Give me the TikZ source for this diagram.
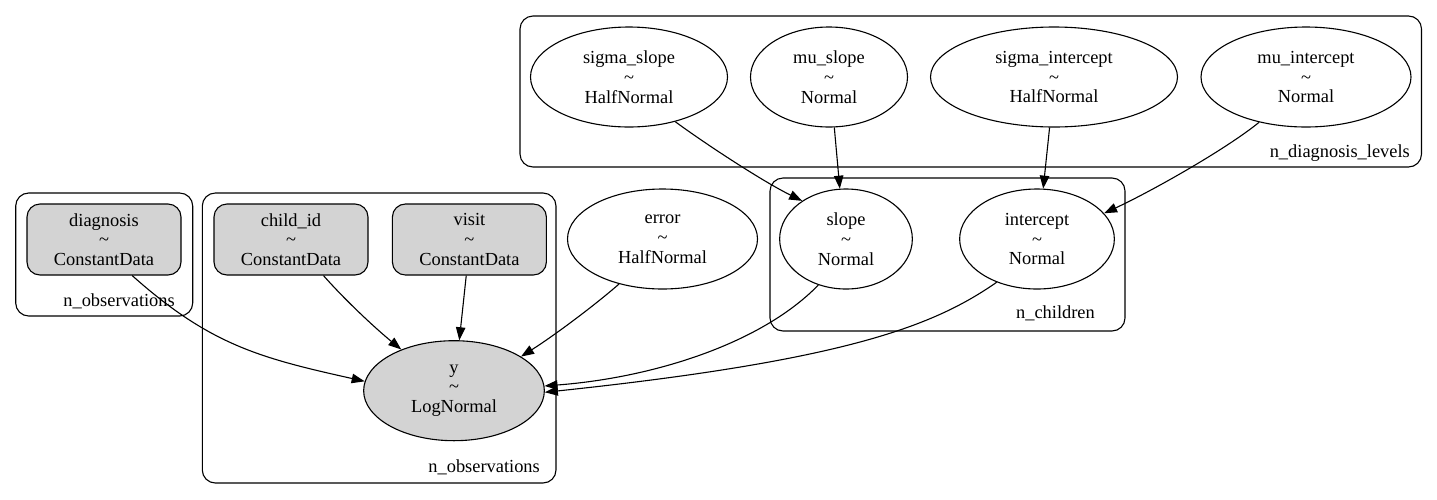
\documentclass[tikz,border=0pt]{standalone}
\usepackage{fontspec}
\setmainfont{Liberation Serif}
\usetikzlibrary{arrows.meta,shapes.geometric}
\definecolor{obsgrey}{HTML}{D3D3D3}

\begin{document}
\begin{tikzpicture}[
  x=1pt,y=-1pt,
  >={Triangle[length=13pt,width=9.5pt]},
  every node/.style={font=\fontsize{18.4}{19.8}\selectfont},
  rv/.style={ellipse,draw,line width=1.1pt,inner sep=0pt,minimum height=100pt,align=center},
  obs/.style={rectangle,draw,line width=1.1pt,rounded corners=13pt,fill=obsgrey,inner sep=0pt,
    minimum width=154pt,minimum height=71pt,align=center},
  plate/.style={draw,line width=1.1pt,rounded corners=13pt},
  lbl/.style={anchor=base east,inner sep=0pt},
  arc/.style={->,line width=1.1pt}
]
\useasboundingbox (0,0) rectangle (1437,499);
\draw[plate] (15.7,193) rectangle (192.7,316);
\draw[plate] (202.3,193) rectangle (556,483);
\draw[plate] (770,178) rectangle (1125,331);
\draw[plate] (520,16) rectangle (1421.5,167);
\node[lbl] (plA) at (175,306) {n\_observations};
\node[lbl] (plB) at (540,472) {n\_observations};
\node[lbl] (plC) at (1095,318) {n\_children};
\node[lbl] (plD) at (1410,157) {n\_diagnosis\_levels};
\node[rv,minimum width=197pt] (sslope) at (629,77) {sigma\_slope\\\textasciitilde\\HalfNormal};
\node[rv,minimum width=157pt] (mslope) at (829,77) {mu\_slope\\\textasciitilde\\Normal};
\node[rv,minimum width=247pt] (sicpt) at (1054,77) {sigma\_intercept\\\textasciitilde\\HalfNormal};
\node[rv,minimum width=210pt] (micpt) at (1306,77) {mu\_intercept\\\textasciitilde\\Normal};
\node[obs] (diag) at (104,239.5) {diagnosis\\\textasciitilde\\ConstantData};
\node[obs] (child) at (291,239.5) {child\_id\\\textasciitilde\\ConstantData};
\node[obs] (visit) at (469.4,239.5) {visit\\\textasciitilde\\ConstantData};
\node[rv,minimum width=190pt] (err) at (662.5,239) {error\\\textasciitilde\\HalfNormal};
\node[rv,minimum width=132.7pt] (slope) at (846,239) {slope\\\textasciitilde\\Normal};
\node[rv,minimum width=154.7pt] (icpt) at (1037,239) {intercept\\\textasciitilde\\Normal};
\node[rv,fill=obsgrey,minimum width=180.7pt] (lik) at (454,390.7) {y\\\textasciitilde\\LogNormal};
\draw[arc] (sslope.-44) .. controls (700,140) and (760,180) .. (slope.139);
\draw[arc] (mslope.-84) -- (slope.97);
\draw[arc] (sicpt.-95.7) -- (icpt.83);
\draw[arc] (micpt.-136.2) .. controls (1225,150) and (1150,192) .. (icpt.21.2);
\draw[arc] (diag.-52) .. controls (210,345) and (260,358) .. (lik.174.4);
\draw[arc] (child.-48.2) .. controls (345,300) and (375,328) .. (lik.142.1);
\draw[arc] (visit.-95.5) -- (lik.84.3);
\draw[arc] (err.-134.7) .. controls (595,305) and (555,335) .. (lik.27.7);
\draw[arc] (slope.-121.6) .. controls (760,345) and (650,378) .. (lik.3);
\draw[arc] (icpt.-133.5) .. controls (935,325) and (850,360) .. (lik.-1);
\end{tikzpicture}
\end{document}
